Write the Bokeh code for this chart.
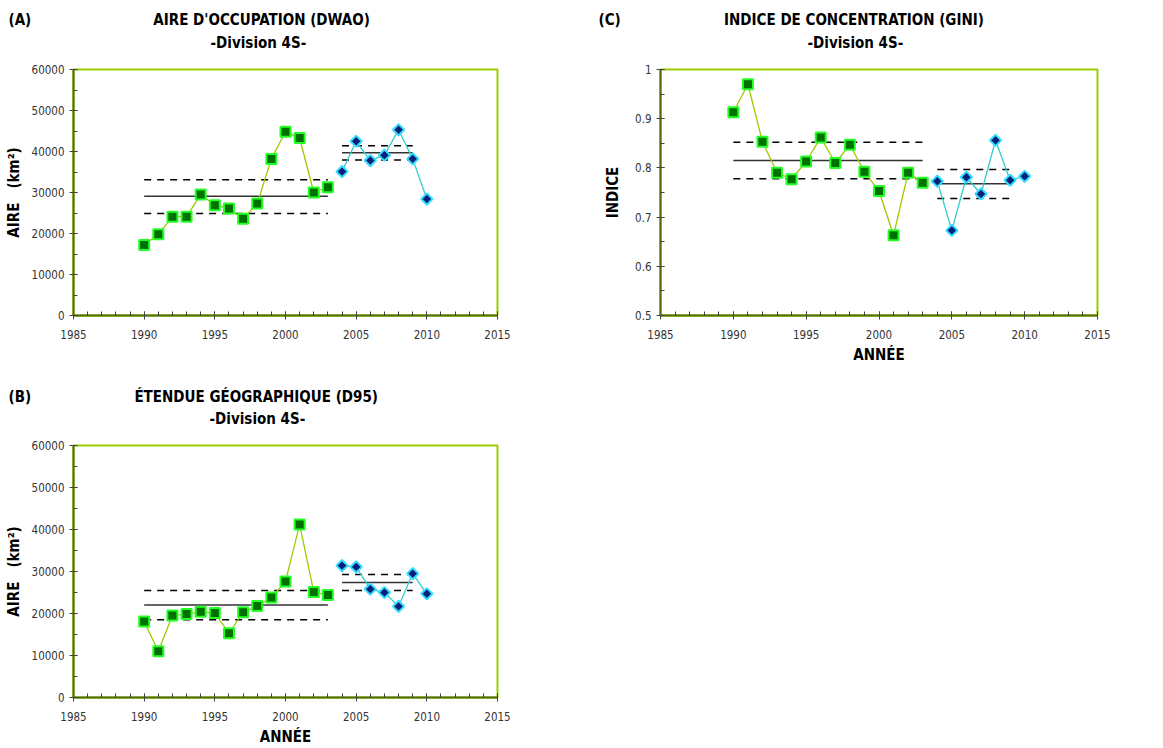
import numpy as np
from bokeh.plotting import figure
from bokeh.models import FixedTicker, Range1d, Title
from bokeh.layouts import column, row
from bokeh.embed import file_html
from bokeh.resources import INLINE

# ---------------- data ----------------
years_1 = [1990, 1991, 1992, 1993, 1994, 1995, 1996, 1997, 1998, 1999, 2000, 2001, 2002, 2003]
years_2 = [2004, 2005, 2006, 2007, 2008, 2009, 2010]
mean_span_1 = [1990, 2003]
mean_span_2 = [2004, 2009]

dwao_1 = [17200, 19800, 24100, 24100, 29500, 26900, 26100, 23600, 27300, 38200, 44800, 43300, 30000, 31300]
dwao_2 = [35100, 42500, 37800, 39100, 45300, 38200, 28400]
dwao_stats_1 = [29100, 33100, 24900]   # mean, upper, lower
dwao_stats_2 = [39700, 41400, 37900]

d95_1 = [18100, 11000, 19500, 19900, 20400, 20100, 15300, 20300, 21800, 23800, 27600, 41200, 25100, 24400]
d95_2 = [31400, 31100, 25800, 25000, 21700, 29500, 24700]
d95_stats_1 = [22000, 25500, 18500]
d95_stats_2 = [27400, 29300, 25500]

gini_1 = [0.913, 0.970, 0.853, 0.790, 0.777, 0.813, 0.862, 0.810, 0.847, 0.792, 0.753, 0.663, 0.790, 0.770]
gini_2 = [0.773, 0.673, 0.781, 0.747, 0.856, 0.775, 0.783]
gini_stats_1 = [0.815, 0.852, 0.778]
gini_stats_2 = [0.768, 0.797, 0.738]

x_ticks = [1985, 1990, 1995, 2000, 2005, 2010, 2015]
area_ticks = [0, 10000, 20000, 30000, 40000, 50000, 60000]
gini_ticks = [0.5, 0.6, 0.7, 0.8, 0.9, 1.0]

tags = ["(A)", "(C)", "(B)"]
titles = ["AIRE D'OCCUPATION (DWAO)", "INDICE DE CONCENTRATION (GINI)", "ÉTENDUE GÉOGRAPHIQUE (D95)"]
subtitle = "-Division 4S-"
area_label = "AIRE\u00a0\u00a0\u00a0(km²)"
gini_label = "INDICE"
x_label = "ANNÉE"

FONT = "'Liberation Sans Narrow', 'DejaVu Sans Condensed', 'Arial Narrow', sans-serif"
OUTLINE = "#99CC00"
AXIS = "#4F6A00"
NB = "\u00a0"


def make_panel(size, borders, tag, title, gap, title_left, sub_left,
               ylabel, xlabel, ylim, yticks, yminor, s1, s2, st1, st2,
               overrides=None, ylabel_standoff=6, spacer=14, main_standoff=4):
    w, h = size
    bl, bt, br, bb = borders
    p = figure(width=w, height=h, x_range=Range1d(1985, 2015), y_range=Range1d(*ylim),
               output_backend="svg", toolbar_location=None,
               min_border_left=bl, min_border_right=br, min_border_top=bt, min_border_bottom=bb)
    p.grid.visible = False
    p.outline_line_color = OUTLINE
    p.outline_line_width = 2
    p.title.visible = False

    for ax in (p.xaxis[0], p.yaxis[0]):
        ax.axis_line_color = AXIS
        ax.axis_line_width = 2
        ax.major_tick_line_color = "#444444"
        ax.minor_tick_line_color = "#444444"
        ax.major_tick_in = 4
        ax.major_tick_out = 4
        ax.minor_tick_in = 4
        ax.minor_tick_out = 0
        ax.major_label_text_font = FONT
        ax.major_label_text_font_size = "11.5px"
        ax.major_label_text_color = "#333333"
        ax.axis_label_text_font = FONT
        ax.axis_label_text_font_size = "15px"
        ax.axis_label_text_font_style = "bold"
        ax.axis_label_text_color = "black"
    p.xaxis[0].ticker = FixedTicker(ticks=x_ticks, minor_ticks=list(range(1985, 2016)))
    p.xaxis[0].major_label_standoff = 10
    p.xaxis[0].axis_label_standoff = 4
    if xlabel:
        p.xaxis[0].axis_label = xlabel
    p.yaxis[0].ticker = FixedTicker(ticks=yticks, minor_ticks=yminor)
    p.yaxis[0].axis_label = ylabel
    p.yaxis[0].major_label_standoff = 5
    p.yaxis[0].axis_label_standoff = ylabel_standoff
    if overrides:
        p.yaxis[0].major_label_overrides = overrides

    # titles stacked above the frame: small spacer, subtitle, then tag + title line
    p.add_layout(Title(text=NB, text_font_size="1px", standoff=spacer), "above")
    p.add_layout(Title(text=subtitle, align="left", offset=sub_left - bl, standoff=2,
                       text_font=FONT, text_font_size="15px", text_font_style="bold",
                       text_color="black"), "above")
    p.add_layout(Title(text=tag + NB * gap + title, align="left", offset=title_left - bl,
                       standoff=main_standoff,
                       text_font=FONT, text_font_size="15px", text_font_style="bold",
                       text_color="black"), "above")

    # mean +/- lines
    for span, st in ((mean_span_1, st1), (mean_span_2, st2)):
        p.line(span, [st[0], st[0]], line_color="#333333", line_width=1.5)
        p.line(span, [st[1], st[1]], line_color="black", line_width=1.5, line_dash="7 6")
        p.line(span, [st[2], st[2]], line_color="black", line_width=1.5, line_dash="7 6")

    # series
    p.line(years_1, s1, line_color="#99CC00", line_width=1.3)
    p.scatter(years_1, s1, marker="square", size=10, fill_color="#007000",
              line_color="#22FF22", line_width=2)
    p.line(years_2, s2, line_color="#33CCCC", line_width=1.3)
    p.scatter(years_2, s2, marker="square", angle=np.pi / 4, size=8, fill_color="#0A1F78",
              line_color="#33DDFF", line_width=2)
    return p


pA = make_panel(size=(572, 366), borders=(73, 69, 75, 51), tag=tags[0], title=titles[0], gap=26,
                title_left=8, sub_left=210,
                ylabel=area_label, xlabel=None,
                ylim=(0, 60000), yticks=area_ticks, yminor=list(range(0, 60001, 5000)),
                s1=dwao_1, s2=dwao_2, st1=dwao_stats_1, st2=dwao_stats_2)

pC = make_panel(size=(575, 366), borders=(88, 69, 50, 51), tag=tags[1], title=titles[1], gap=22,
                title_left=598 - 572, sub_left=807 - 572,
                ylabel=gini_label, xlabel=x_label,
                ylim=(0.5, 1.0), yticks=gini_ticks, yminor=[0.5 + 0.05 * i for i in range(11)],
                s1=gini_1, s2=gini_2, st1=gini_stats_1, st2=gini_stats_2,
                overrides={1.0: "1", 1: "1"}, ylabel_standoff=10)

pB = make_panel(size=(572, 382), borders=(73, 79, 75, 49), tag=tags[2], title=titles[2], gap=22,
                title_left=8, sub_left=209,
                ylabel=area_label, xlabel=x_label,
                ylim=(0, 60000), yticks=area_ticks, yminor=list(range(0, 60001, 5000)),
                s1=d95_1, s2=d95_2, st1=d95_stats_1, st2=d95_stats_2, main_standoff=2)

layout = column(row(pA, pC), pB)
open("out.html", "w").write(file_html(layout, INLINE))
